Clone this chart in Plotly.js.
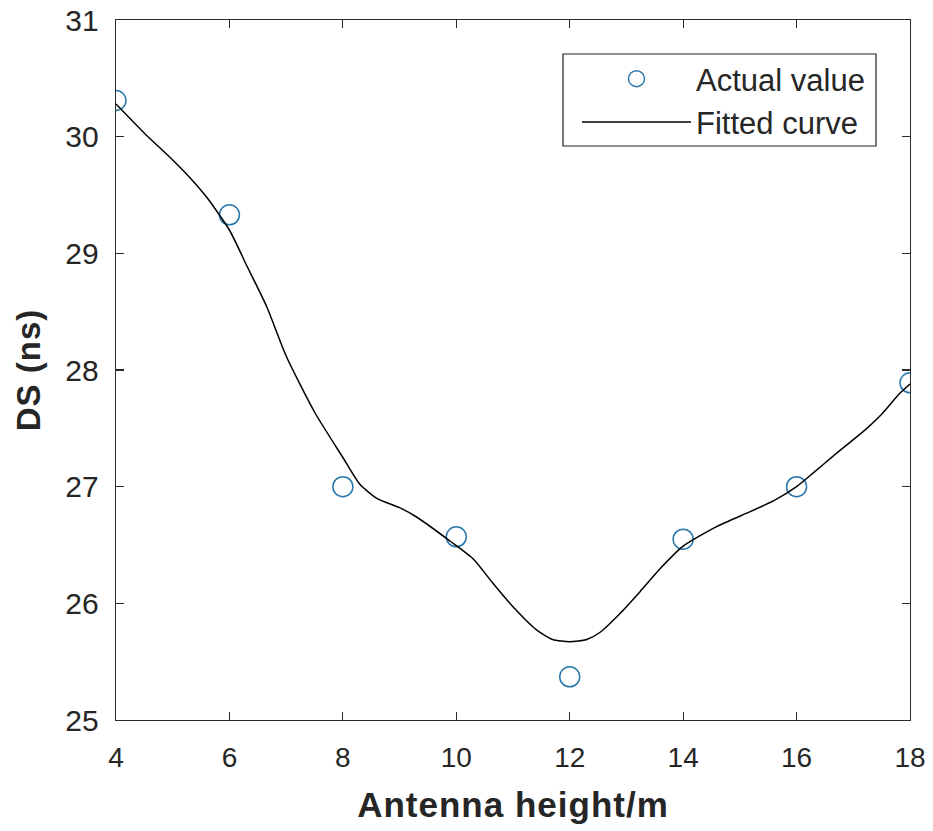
<!DOCTYPE html>
<html>
<head>
<meta charset="utf-8">
<script src="https://cdn.plot.ly/plotly-3.0.1.min.js"></script>
<style>
  html, body { margin: 0; padding: 0; background: #fff; }
  #chart { width: 933px; height: 831px; }
  /* wide, bold axis titles */
  #chart .xtitle, #chart .ytitle { letter-spacing: 1px; }
</style>
</head>
<body>
<div id="chart"></div>
<script>
// Measured delay spread at each antenna height
const heights = [4, 6, 8, 10, 12, 14, 16, 18];
const dsActual = [30.31, 29.33, 27.00, 26.57, 25.37, 26.55, 27.00, 27.89];

// Fitted curve samples
const fitX = [4, 4.5, 5, 5.3, 5.6, 6, 6.3, 6.66, 7, 7.5, 8, 8.3, 8.6, 9, 9.3, 9.9,
  10.3, 10.65, 11, 11.42, 11.7, 12, 12.3, 12.53, 12.9, 13.24, 13.6, 14, 14.3, 14.6,
  15.2, 15.6, 16, 16.3, 16.64, 17.24, 17.5, 17.82, 18];
const fitY = [30.28, 30.03, 29.80, 29.65, 29.48, 29.20, 28.90, 28.54, 28.12, 27.64,
  27.25, 27.02, 26.90, 26.82, 26.74, 26.53, 26.38, 26.17, 25.97, 25.77, 25.69, 25.67,
  25.69, 25.75, 25.92, 26.10, 26.30, 26.49, 26.58, 26.66, 26.79, 26.88, 27.00, 27.12,
  27.26, 27.50, 27.62, 27.80, 27.88];

const xTicks = [4, 6, 8, 10, 12, 14, 16, 18];
const yTicks = [25, 26, 27, 28, 29, 30, 31];

const fontFam = 'Arial, "Liberation Sans", Helvetica, sans-serif';
const inkColor = '#262626';
const dotColor = '#2a78ad';

const traces = [
  {
    x: heights, y: dsActual,
    type: 'scatter', mode: 'markers', name: 'Actual value',
    marker: { symbol: 'circle-open', size: 20, color: dotColor, line: { width: 1.5, color: dotColor } }
  },
  {
    x: fitX, y: fitY,
    type: 'scatter', mode: 'lines', name: 'Fitted curve',
    line: { color: '#000', width: 1.5, shape: 'spline', smoothing: 0.6 }
  }
];

const axisCommon = {
  showgrid: false, zeroline: false,
  showline: true, linecolor: '#2b2b2b', linewidth: 1.3,
  mirror: 'ticks', ticks: 'inside', ticklen: 8, tickwidth: 1.2, tickcolor: '#2b2b2b'
};

// legend frame, in paper coordinates of the plot area
const px = v => (v - 116) / 794;
const py = v => (720 - v) / 700;

const layout = {
  width: 933, height: 831,
  margin: { l: 116, r: 23, t: 20, b: 111 },
  paper_bgcolor: '#fff', plot_bgcolor: '#fff',
  showlegend: true,
  legend: {
    x: px(577), y: py(52), xanchor: 'left', yanchor: 'top',
    bgcolor: 'rgba(0,0,0,0)', borderwidth: 0,
    font: { family: fontFam, size: 31, color: inkColor },
    itemwidth: 109, tracegroupgap: 0
  },
  shapes: [{
    type: 'rect', xref: 'paper', yref: 'paper', layer: 'below',
    x0: px(563), x1: px(876), y0: py(146), y1: py(54),
    line: { color: '#222', width: 1.2 }, fillcolor: '#fff'
  }],
  xaxis: Object.assign({}, axisCommon, {
    range: [4, 18], tickvals: xTicks, ticktext: xTicks.map(String),
    tickfont: { family: fontFam, size: 28, color: inkColor },
    ticklabelstandoff: 12,
    title: { text: '<b>Antenna height/m</b>', font: { family: fontFam, size: 35, color: inkColor }, standoff: 20 }
  }),
  yaxis: Object.assign({}, axisCommon, {
    range: [25, 31], tickvals: yTicks, ticktext: yTicks.map(String),
    tickfont: { family: fontFam, size: 30, color: inkColor },
    ticklabelstandoff: 10,
    title: { text: '<b>DS (ns)</b>', font: { family: fontFam, size: 33, color: inkColor }, standoff: 14 }
  })
};

Plotly.newPlot('chart', traces, layout, { displayModeBar: false, staticPlot: true });
</script>
</body>
</html>
